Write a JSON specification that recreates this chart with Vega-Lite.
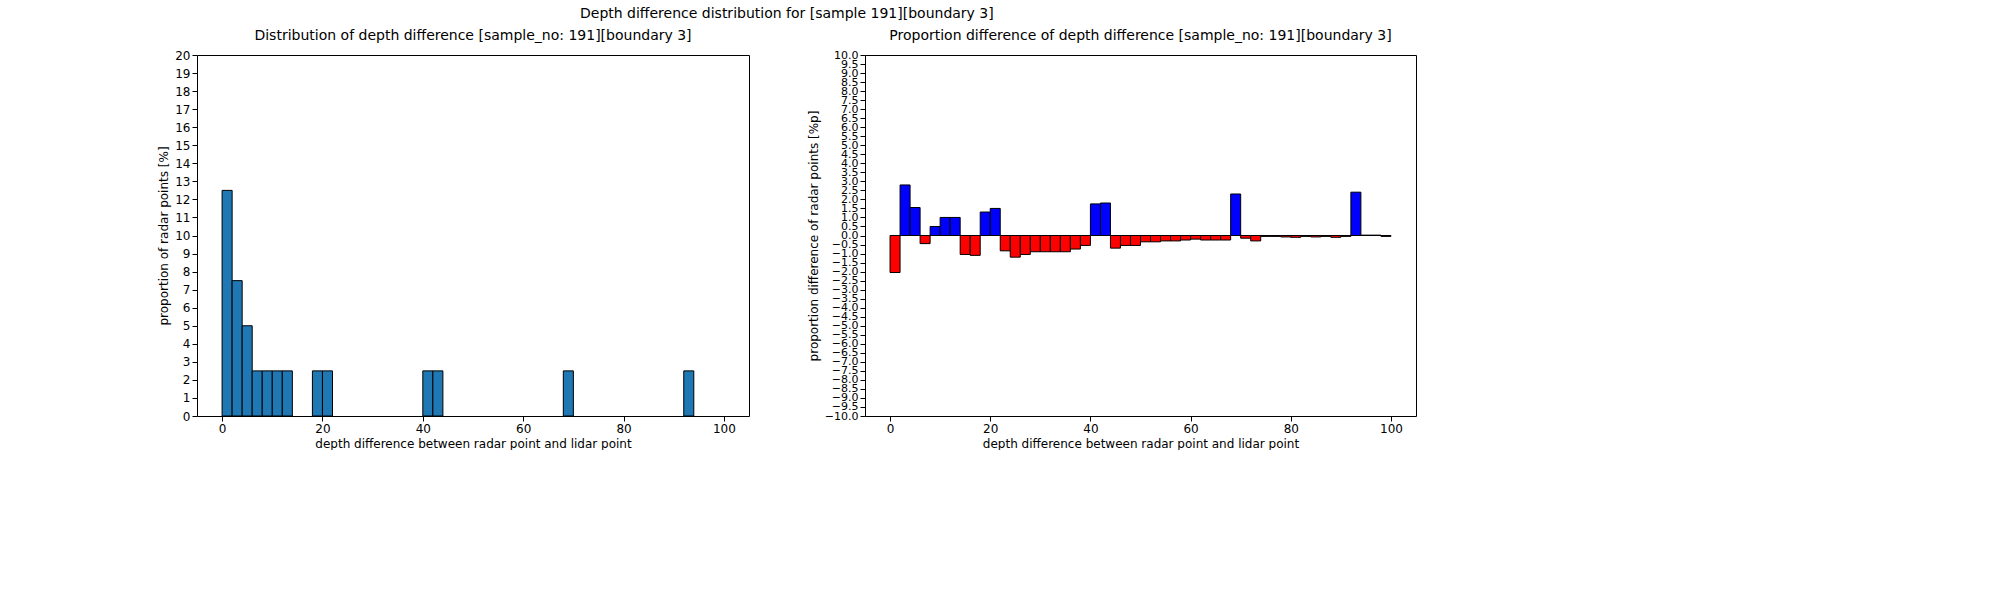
{
"$schema":"https://vega.github.io/schema/vega-lite/v6.json",
"padding":{"left":157,"top":6,"right":0,"bottom":0},
"background":"white",
"config":{"font":"DejaVu Sans","view":{"stroke":"black"},"axis":{"labelFontSize":12,"titleFontSize":12,"titleFontWeight":"normal","grid":false,"domain":false,"tickColor":"black","labelColor":"black","titleColor":"black"},"title":{"fontSize":14,"fontWeight":"normal","color":"black"}},
"title":{"text":"Depth difference distribution for [sample 191][boundary 3]","fontSize":14,"anchor":"middle","offset":8},
"spacing":56,
"hconcat":[
{"width":552,"height":361,
"title":{"text":"Distribution of depth difference [sample_no: 191][boundary 3]","offset":6},
"data":{"values":[
{"a":0,"b":2,"v":12.5},{"a":2,"b":4,"v":7.5},{"a":4,"b":6,"v":5},{"a":6,"b":8,"v":2.5},{"a":8,"b":10,"v":2.5},{"a":10,"b":12,"v":2.5},{"a":12,"b":14,"v":2.5},{"a":18,"b":20,"v":2.5},{"a":20,"b":22,"v":2.5},{"a":40,"b":42,"v":2.5},{"a":42,"b":44,"v":2.5},{"a":68,"b":70,"v":2.5},{"a":92,"b":94,"v":2.5}]},
"mark":{"type":"bar","color":"#1f77b4","stroke":"black","strokeWidth":1},
"encoding":{
"x":{"field":"a","type":"quantitative","scale":{"domain":[-5,105],"nice":false},"axis":{"values":[0,20,40,60,80,100],"title":"depth difference between radar point and lidar point"}},
"x2":{"field":"b"},
"y":{"field":"v","type":"quantitative","scale":{"domain":[0,20],"nice":false},"axis":{"values":[0,1,2,3,4,5,6,7,8,9,10,11,12,13,14,15,16,17,18,19,20],"title":"proportion of radar points [%]"}},
"y2":{"datum":0}}},
{"width":551,"height":361,
"title":{"text":"Proportion difference of depth difference [sample_no: 191][boundary 3]","offset":6},
"data":{"values":[
{"a":0,"v":-2.05},{"a":2,"v":2.8},{"a":4,"v":1.55},{"a":6,"v":-0.45},{"a":8,"v":0.5},{"a":10,"v":1.0},{"a":12,"v":1.0},{"a":14,"v":-1.05},{"a":16,"v":-1.1},{"a":18,"v":1.3},{"a":20,"v":1.5},{"a":22,"v":-0.85},{"a":24,"v":-1.2},{"a":26,"v":-1.05},{"a":28,"v":-0.9},{"a":30,"v":-0.9},{"a":32,"v":-0.9},{"a":34,"v":-0.9},{"a":36,"v":-0.75},{"a":38,"v":-0.55},{"a":40,"v":1.75},{"a":42,"v":1.8},{"a":44,"v":-0.7},{"a":46,"v":-0.55},{"a":48,"v":-0.55},{"a":50,"v":-0.35},{"a":52,"v":-0.35},{"a":54,"v":-0.3},{"a":56,"v":-0.3},{"a":58,"v":-0.25},{"a":60,"v":-0.2},{"a":62,"v":-0.25},{"a":64,"v":-0.25},{"a":66,"v":-0.25},{"a":68,"v":2.3},{"a":70,"v":-0.15},{"a":72,"v":-0.3},{"a":74,"v":-0.05},{"a":76,"v":-0.05},{"a":78,"v":-0.08},{"a":80,"v":-0.1},{"a":82,"v":-0.05},{"a":84,"v":-0.08},{"a":86,"v":-0.05},{"a":88,"v":-0.1},{"a":90,"v":-0.05},{"a":92,"v":2.4},{"a":94,"v":0.02},{"a":96,"v":0.02},{"a":98,"v":-0.05}]},
"transform":[{"calculate":"datum.a+2","as":"b"},{"calculate":"datum.v>=0?'pos':'neg'","as":"s"}],
"mark":{"type":"bar","stroke":"black","strokeWidth":1},
"encoding":{
"x":{"field":"a","type":"quantitative","scale":{"domain":[-5,105],"nice":false},"axis":{"values":[0,20,40,60,80,100],"title":"depth difference between radar point and lidar point"}},
"x2":{"field":"b"},
"y":{"field":"v","type":"quantitative","scale":{"domain":[-10,10],"nice":false,"zero":true},"axis":{"values":[-10,-9.5,-9,-8.5,-8,-7.5,-7,-6.5,-6,-5.5,-5,-4.5,-4,-3.5,-3,-2.5,-2,-1.5,-1,-0.5,0,0.5,1,1.5,2,2.5,3,3.5,4,4.5,5,5.5,6,6.5,7,7.5,8,8.5,9,9.5,10],"format":".1f","labelOverlap":false,"labelFontSize":11,"labelBaseline":"middle","title":"proportion difference of radar points [%p]"}},
"y2":{"datum":0},
"color":{"field":"s","type":"nominal","scale":{"domain":["pos","neg"],"range":["#0000ff","#ff0000"]},"legend":null}}}
]}
